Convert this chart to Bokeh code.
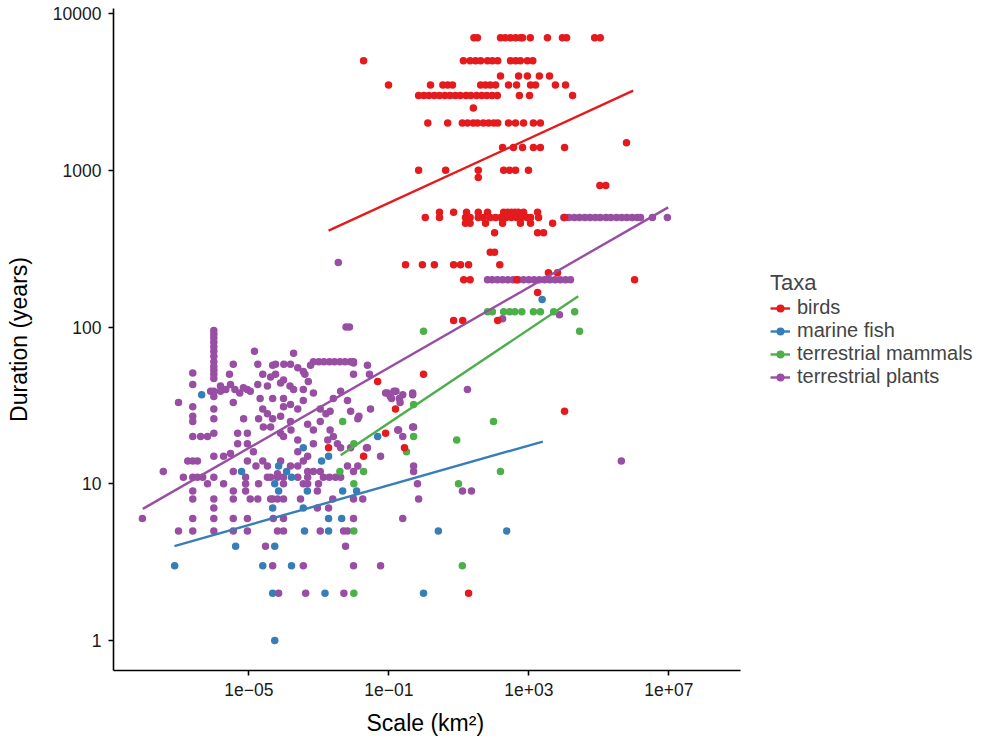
from bokeh.plotting import figure
from bokeh.models import Range1d, FixedTicker, CustomJSTickFormatter, Legend, LegendItem, Title
from bokeh.embed import file_html
from bokeh.resources import INLINE

taxa = ["birds", "marine fish", "terrestrial mammals", "terrestrial plants"]
colors = ["#E41A1C", "#377EB8", "#4DAF4A", "#984EA3"]
x_ticks = [1e-5, 1e-1, 1e3, 1e7]
y_ticks = [1, 10, 100, 1000, 10000]

# (scale km2, duration years)
birds_points = [
    (27, 7000), (34, 7000), (155, 7000), (210, 7000), (300, 7000), (420, 7000), (575, 7000), (660, 7000),
    (1100, 7000), (3400, 7000), (9100, 7000), (12000, 7000), (76000, 7000), (110000, 7000),
    (0.019, 5000), (13.5, 5000), (21, 5000), (30, 5000), (42, 5000), (66, 5000), (91, 5000), (129, 5000),
    (300, 5000), (420, 5000), (575, 5000), (910, 5000), (1300, 5000),
    (155, 4000), (510, 4000), (910, 4000), (2000, 4000), (3900, 4000),
    (0.098, 3500), (1.55, 3500), (3.5, 3500), (4.8, 3500), (6.6, 3500), (42, 3500), (58, 3500), (79, 3500),
    (112, 3500), (263, 3500), (447, 3500), (1120, 3500), (1550, 3500), (5750, 3500), (11200, 3500),
    (0.71, 3000), (1.0, 3000), (1.4, 3000), (2.0, 3000), (2.8, 3000), (4.0, 3000), (5.6, 3000), (7.9, 3000),
    (11, 3000), (16, 3000), (22, 3000), (32, 3000), (45, 3000), (63, 3000), (89, 3000), (126, 3000),
    (537, 3000), (1050, 3000), (17800, 3000),
    (26, 2500),
    (1.3, 2000), (4.8, 2000), (12.6, 2000), (17.8, 2000), (26, 2000), (34, 2000), (50, 2000), (71, 2000),
    (100, 2000), (129, 2000), (263, 2000), (417, 2000), (708, 2000), (1350, 2000), (2140, 2000),
    (178, 1400), (363, 1400), (661, 1400), (1350, 1400), (2140, 1400), (10500, 1400), (617000, 1500),
    (0.71, 1000), (4.2, 1000), (36, 1000), (191, 1000), (282, 1000), (417, 1000), (977, 1000), (36, 900),
    (107000, 800), (158000, 800),
    (2.8, 540), (7.1, 540), (16.6, 540), (36, 540), (66, 540), (191, 540), (251, 540), (316, 540),
    (398, 540), (501, 540), (708, 540), (1780, 540),
    (1.1, 500), (2.8, 500), (15.5, 500), (21, 500), (36, 500), (50, 500), (79, 500), (112, 500), (158, 500),
    (224, 500), (316, 500), (447, 500), (631, 500), (891, 500), (1120, 500), (1900, 500), (10500, 500),
    (15.5, 460), (21, 460), (58, 460), (178, 460), (575, 460), (1120, 460), (4790, 460),
    (105, 400), (1780, 400), (2630, 400),
    (79, 300), (105, 300),
    (0.3, 250), (0.91, 250), (2.0, 250), (7.1, 250), (11.2, 250), (19, 250), (148, 250),
    (3630, 222), (6610, 222),
    (13.8, 200), (21, 200), (447, 200), (1050000, 200),
    (1780, 166),
    (7.1, 110), (12.9, 110), (129, 110),
    (0.0019, 17), (0.019, 15), (0.048, 45), (0.081, 21), (0.155, 30), (0.28, 17), (0.98, 50), (19, 2),
    (10500, 29),
]

fish_points = [
    (7.6e-8, 3), (4.5e-7, 37), (4.2e-6, 4), (6.2e-6, 12), (2.5e-5, 3), (4.8e-5, 2), (4.8e-5, 7), (5.5e-5, 4),
    (5.5e-5, 1), (5.5e-5, 10), (7.1e-5, 9), (7.1e-5, 13), (1.2e-4, 12), (1.66e-4, 11), (1.66e-4, 3),
    (3.6e-4, 17), (3.6e-4, 7), (3.9e-4, 5), (4.7e-4, 9), (1.2e-3, 14), (1.5e-3, 2), (1.9e-3, 15), (1.9e-3, 6),
    (1.9e-3, 5), (4.5e-3, 6), (4.8e-3, 9), (0.012, 9), (0.048, 20), (0.98, 2), (2.6, 5), (234, 5), (2400, 150),
]

mammals_points = [
    (4.0e-3, 12), (4.8e-3, 25), (0.01, 18), (0.01, 10), (0.01, 5), (0.01, 2), (0.019, 12), (0.32, 16),
    (0.51, 20), (0.51, 32), (0.98, 94), (8.7, 19), (9.8, 10), (12.6, 3), (98, 25), (155, 12),
    (66, 125), (91, 125), (191, 125), (282, 125), (398, 125), (631, 125), (1350, 125), (2140, 125),
    (5130, 125), (20400, 125), (28200, 94),
]

plants_points = [
    (1e-6, 95), (1e-6, 90), (1e-6, 85), (1e-6, 80), (1e-6, 75), (1e-6, 70), (1e-6, 65), (1e-6, 60),
    (1e-6, 56), (1e-6, 53), (1e-6, 50), (1e-6, 47), (1e-6, 39), (1e-6, 36), (1e-6, 30), (1e-6, 26),
    (1e-6, 21), (1e-6, 15), (1e-6, 11), (1e-6, 8), (1e-6, 7), (1e-6, 6), (1e-6, 5),
    (2.5e-7, 51), (2.5e-7, 43), (2.5e-7, 31), (2.5e-7, 27), (2.5e-7, 25), (2.5e-7, 20), (2.5e-7, 14),
    (2.5e-7, 11), (2.5e-7, 9), (2.5e-7, 8), (2.5e-7, 6), (2.5e-7, 5),
    (9.8e-8, 33), (3.6e-8, 12), (9.1e-9, 6), (9.8e-8, 5),
    (1.35e-7, 11), (3.4e-7, 14), (3.4e-7, 11), (4.8e-7, 11), (6.6e-7, 10), (1.9e-6, 10),
    (3.6e-6, 12), (3.6e-6, 9), (3.6e-6, 8), (3.6e-6, 6), (3.6e-6, 5),
    (8.1e-6, 11), (8.1e-6, 10), (8.1e-6, 9), (9.1e-6, 6), (9.1e-6, 5),
    (1.1e-5, 8), (1.8e-5, 8), (1.9e-5, 10), (3e-5, 4), (4.8e-5, 3), (7.1e-5, 2),
    (3.4e-5, 11), (6.6e-5, 11), (4.8e-5, 8), (6.6e-5, 8), (6.6e-5, 5),
    (4.2e-7, 20), (6.6e-7, 20), (8.1e-7, 39), (1.55e-6, 39),
    (1.55e-6, 42), (2.2e-6, 40), (3e-6, 43), (4e-6, 40), (5.5e-6, 38), (7e-6, 41), (9e-6, 40), (1.1e-5, 39),
    (3.6e-6, 58), (2.8e-6, 50), (3.6e-6, 33), (4.8e-6, 21), (9.1e-6, 21), (7.1e-6, 26),
    (1.45e-5, 70), (1.8e-5, 58), (2.5e-5, 50), (4.8e-5, 57), (5.8e-5, 50),
    (1.8e-5, 43), (3.4e-5, 42), (2.1e-5, 35), (2.5e-5, 30), (3.4e-5, 28), (4.8e-5, 35), (4.8e-5, 26),
    (1.9e-5, 26), (2.6e-5, 23), (4.8e-6, 18), (9.1e-6, 18), (1.35e-5, 16), (3e-6, 15.6), (1.9e-6, 15),
    (1.8e-7, 14), (9.1e-6, 14), (1.6e-5, 13), (2.5e-5, 14), (3.4e-5, 13), (6.6e-5, 11.6),
    (6e-3, 100), (7.5e-3, 100), (1.9e-4, 68), (5.8e-5, 58), (1e-4, 58), (1.55e-4, 58),
    (7e-4, 60), (1e-3, 60), (1.4e-3, 60), (2e-3, 60), (2.8e-3, 60), (4e-3, 60), (5.6e-3, 60), (7.9e-3, 60),
    (9.8e-3, 60),
    (2.5e-4, 55), (4e-4, 50), (5.8e-4, 57), (0.0245, 57), (9.8e-3, 50),
    (4.2e-5, 48), (8.1e-5, 44), (9.8e-5, 46), (1.5e-4, 42), (1.9e-4, 40),
    (3.6e-4, 52), (5e-4, 45), (7e-4, 38), (3.6e-4, 40),
    (9.8e-5, 31), (9.8e-5, 35), (1.55e-4, 32), (2.5e-4, 30), (3.6e-4, 34),
    (1.1e-3, 30), (1.6e-3, 28), (2.1e-3, 29), (2.6e-3, 35), (4.2e-3, 39), (6.6e-3, 34), (8.1e-3, 29), (0.03, 30),
    (0.091, 38), (0.12, 35), (0.16, 39), (0.21, 33), (0.48, 38),
    (8.1e-5, 27), (1.55e-4, 25), (4.2e-5, 23), (8.1e-5, 21), (9.8e-5, 20), (1.6e-4, 22), (2.5e-4, 19),
    (4.8e-4, 24), (7e-4, 22), (1.1e-3, 25), (2.1e-3, 22), (2.6e-3, 20), (0.013, 26), (7e-4, 18),
    (2.5e-4, 16), (4.8e-4, 15), (1.8e-3, 19), (3.4e-3, 18), (4.2e-3, 17), (8.1e-3, 17), (0.0245, 17), (0.058, 15),
    (0.18, 22), (0.25, 20), (0.51, 23), (0.51, 12), (0.51, 13),
    (8.1e-5, 14), (1.55e-4, 13), (2.5e-4, 13), (3.6e-4, 14),
    (4.8e-4, 12), (7e-4, 12), (1.1e-3, 12), (1.35e-3, 11), (2e-3, 11), (3e-3, 11), (4.2e-3, 11),
    (6.6e-3, 13), (9.8e-3, 12), (0.013, 13),
    (4.2e-5, 11), (9.8e-5, 11), (2.5e-4, 11), (4.8e-4, 11), (9.8e-5, 10), (3.6e-4, 10), (4.8e-4, 10), (9.8e-4, 10),
    (4.2e-5, 8), (9.8e-5, 8), (3e-4, 8), (9.1e-4, 9), (2.5e-3, 8), (9.8e-3, 8), (0.018, 8), (0.66, 10), (0.71, 8),
    (9.1e-4, 7), (1.9e-3, 7), (5e-5, 6), (9.8e-5, 6), (9.8e-3, 6), (0.25, 6), (9.8e-5, 5), (1.1e-3, 5),
    (5.1e-3, 5), (6.6e-3, 5), (5.8e-3, 4),
    (3.6e-4, 3), (9.8e-3, 3), (0.058, 3), (4.2e-4, 2), (5.2e-3, 2),
    (3.6e-3, 258), (178, 113), (7500, 120), (4.4e5, 14), (17.6, 40), (12.7, 9), (23, 9),
    (0.023, 17), (0.014, 27), (0.081, 38), (0.11, 36), (0.14, 39), (0.2, 35), (0.25, 37),
    (0.48, 37), (0.0098, 59), (0.028, 50), (0.19, 22), (0.48, 23),
    (1e4, 500), (1.4e4, 500), (2e4, 500), (2.8e4, 500), (4e4, 500), (5.6e4, 500), (7.9e4, 500), (1.1e5, 500),
    (1.6e5, 500), (2.2e5, 500), (3.2e5, 500), (4.5e5, 500), (6.3e5, 500), (8.9e5, 500), (1.26e6, 500),
    (1.55e6, 500), (3.4e6, 500), (9.1e6, 500),
    (66, 200), (90, 200), (126, 200), (178, 200), (251, 200), (355, 200), (501, 200), (708, 200), (1000, 200),
    (1410, 200), (2000, 200), (2820, 200), (3980, 200), (5620, 200), (7940, 200), (11200, 200), (15500, 200),
]

# fitted trend lines (end points)
birds_fit_scale = [0.0019, 9.6e5]
birds_fit_duration = [412, 3220]
fish_fit_scale = [7.5e-8, 2510]
fish_fit_duration = [4.0, 18.6]
mammals_fit_scale = [4.2e-3, 25800]
mammals_fit_duration = [15.2, 157]
plants_fit_scale = [9.35e-9, 9.6e6]
plants_fit_duration = [6.92, 580]

FONT = "Liberation Sans"

# axis extent (data) and an extended frame to the right that holds the legend
X_AXIS_START, X_AXIS_END = 1.36e-9, 1.12e9
X_FRAME_END = 6.6e15

p = figure(frame_width=864, frame_height=662,
           x_axis_type="log", y_axis_type="log",
           x_range=Range1d(X_AXIS_START, X_FRAME_END), y_range=Range1d(0.644, 10770),
           output_backend="svg", toolbar_location=None,
           min_border_left=113, min_border_top=8, min_border_right=0, min_border_bottom=0)
p.grid.visible = False
p.outline_line_color = None
p.background_fill_color = "white"

points = [birds_points, fish_points, mammals_points, plants_points]
fits = [(birds_fit_scale, birds_fit_duration), (fish_fit_scale, fish_fit_duration),
        (mammals_fit_scale, mammals_fit_duration), (plants_fit_scale, plants_fit_duration)]

scatter_r = [None] * 4
for i in [3, 2, 1, 0]:
    xs = [pt[0] for pt in points[i]]
    ys = [pt[1] for pt in points[i]]
    scatter_r[i] = p.scatter(xs, ys, size=7.5, marker="circle", fill_color=colors[i], line_color=colors[i], line_width=0)

line_r = []
for i in range(4):
    line_r.append(p.line(fits[i][0], fits[i][1], line_color=colors[i], line_width=2.4))

p.xaxis.ticker = FixedTicker(ticks=x_ticks)
p.yaxis.ticker = FixedTicker(ticks=y_ticks)
p.xaxis.bounds = (X_AXIS_START, X_AXIS_END)
p.xaxis.formatter = CustomJSTickFormatter(code="""
const e = Math.round(Math.log10(tick));
const s = e < 0 ? '\u2212' : '+';
return '1e' + s + String(Math.abs(e)).padStart(2, '0');
""")
p.yaxis.formatter = CustomJSTickFormatter(code="return String(Math.round(tick));")

for ax in [p.xaxis[0], p.yaxis[0]]:
    ax.axis_line_color = "black"
    ax.axis_line_width = 1.6
    ax.major_tick_line_color = "black"
    ax.major_tick_line_width = 1.6
    ax.major_tick_out = 5
    ax.major_tick_in = 0
    ax.minor_tick_line_color = None
    ax.major_label_text_font = FONT
    ax.major_label_text_font_size = "17.5px"
    ax.major_label_text_color = "#1a1a1a"
    ax.axis_label_text_font = FONT
    ax.axis_label_text_font_size = "23px"
    ax.axis_label_text_font_style = "normal"
    ax.axis_label_text_color = "black"
    ax.major_label_standoff = 7

p.yaxis.axis_label = "Duration (years)"
p.yaxis.axis_label_standoff = 18

# x-axis title, centred under the axis line (frame extends further right for the legend)
x_title = Title(text="Scale (km\u00b2)", align="left", offset=253, standoff=18,
                text_font=FONT, text_font_size="23px", text_font_style="normal", text_color="black")
p.add_layout(x_title, "below")

items = [LegendItem(label=taxa[i], renderers=[line_r[i], scatter_r[i]]) for i in range(4)]
legend = Legend(items=items, title="Taxa", location=(657, 282),
                border_line_color=None, background_fill_alpha=0,
                label_text_font=FONT, label_text_font_size="20px",
                title_text_font=FONT, title_text_font_size="22px", title_text_font_style="normal",
                glyph_width=20, glyph_height=20, label_height=20, spacing=0,
                padding=0, margin=0, label_standoff=7, title_standoff=0)
p.add_layout(legend, "center")

html = file_html(p, INLINE)
open("out.html", "w").write(html)
